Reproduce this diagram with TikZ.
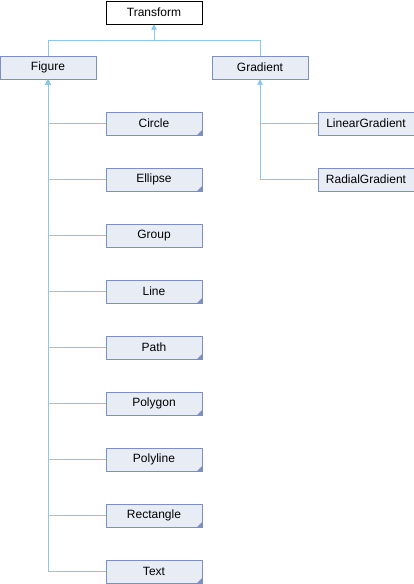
\documentclass[tikz,border=0pt]{standalone}
\usepackage{fontspec}
\setmainfont{Liberation Sans}
\usetikzlibrary{arrows.meta,calc}
\definecolor{boxfill}{HTML}{E8ECF5}
\definecolor{boxline}{HTML}{7A8FC5}
\definecolor{edgecol}{HTML}{8CC8EC}
\tikzset{
  cls/.style={draw=boxline, fill=boxfill, line width=1pt, minimum width=96pt, minimum height=23pt, inner sep=0pt, font=\fontsize{12}{14}\selectfont},
  top/.style={draw=black, fill=white, line width=1pt, minimum width=96pt, minimum height=23pt, inner sep=0pt, font=\fontsize{12}{14}\selectfont},
  corner/.style={path picture={\fill[boxline] (path picture bounding box.south east) -- ++(-5pt,0) -- ++(5pt,5pt) -- cycle;}},
  edge/.style={draw=edgecol, line width=1pt, -{Triangle[length=5pt,width=5pt,fill=edgecol]}},
}
\begin{document}
\begin{tikzpicture}[x=1pt,y=-1pt]
\useasboundingbox (0,0) rectangle (414,584);
\node[top] (transform) at (154,12.5) {Transform};
\node[cls] (figure) at (48,67.5) {Figure};
\node[cls] (gradient) at (260,67.5) {Gradient};
\node[cls,corner] (circle) at (154,123.5) {Circle};
\node[cls,corner] (ellipse) at (154,179.5) {Ellipse};
\node[cls] (group) at (154,235.5) {Group};
\node[cls,corner] (line) at (154,291.5) {Line};
\node[cls,corner] (path) at (154,347.5) {Path};
\node[cls,corner] (polygon) at (154,403.5) {Polygon};
\node[cls,corner] (polyline) at (154,459.5) {Polyline};
\node[cls,corner] (rectangle) at (154,515.5) {Rectangle};
\node[cls,corner] (text) at (154,571.5) {Text};
\node[cls] (linear) at (366,123.5) {LinearGradient};
\node[cls] (radial) at (366,179.5) {RadialGradient};
\coordinate (bus) at (154,40);
\draw[edge] (figure.north) |- (bus) -- (transform.south);
\draw[edge] (gradient.north) |- (bus) -- (transform.south);
\foreach \c in {circle,ellipse,group,line,path,polygon,polyline,rectangle,text}
  \draw[edge] (\c.west) -| (figure.south);
\foreach \c in {linear,radial}
  \draw[edge] (\c.west) -| (gradient.south);
\end{tikzpicture}
\end{document}
